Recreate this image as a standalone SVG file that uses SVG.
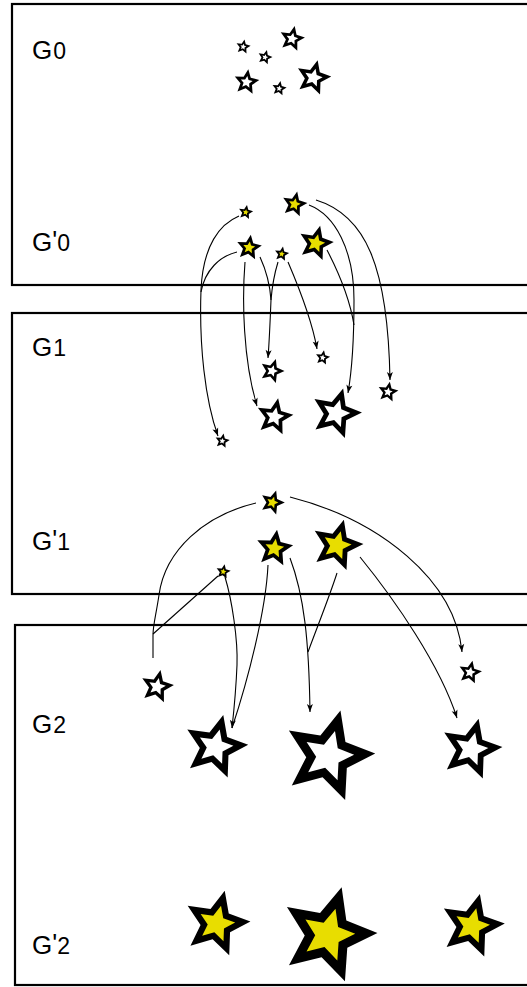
<svg xmlns="http://www.w3.org/2000/svg" width="527" height="987" viewBox="0 0 527 987">
  <style>
    .panel { fill: none; stroke: #000; stroke-width: 2.2; }
    .lbl { font-family: "Liberation Sans", Arial, sans-serif; font-size: 26px; fill: #000; }
    .idx { font-size: 23px; }
    .rim { fill: #000; }
    .w { fill: #fff; }
    .y { fill: #e8dd00; }
    .edge { fill: none; stroke: #000; stroke-width: 1.1; }
  </style>
  <defs>
    <!-- five-pointed star, outer radius 10 -->
    <path id="star" d="M0,-10 L2.763,-3.802 L9.511,-3.09 L4.47,1.452 L5.878,8.09 L0,4.7 L-5.878,8.09 L-4.47,1.452 L-9.511,-3.09 L-2.763,-3.802 Z"/>
    <marker id="ah" viewBox="-9 -4 10 8" refX="0" refY="0" markerWidth="10" markerHeight="8" markerUnits="userSpaceOnUse" orient="auto">
      <path d="M0,0 L-8,-3 L-6,0 L-8,3 Z" fill="#000"/>
    </marker>
  </defs>

  <rect width="527" height="987" fill="#fff"/>

  <!-- generation panels -->
  <g id="panels">
    <rect class="panel" x="12" y="4" width="530" height="281"/>
    <rect class="panel" x="12" y="313" width="530" height="281"/>
    <rect class="panel" x="15" y="625" width="530" height="360"/>
  </g>

  <!-- panel labels -->
  <g id="labels">
    <text class="lbl" x="32" y="59">G<tspan class="idx" dx="1">0</tspan></text>
    <text class="lbl" x="32" y="251">G<tspan dy="-2">'</tspan><tspan class="idx" dy="2">0</tspan></text>
    <text class="lbl" x="32" y="356">G<tspan class="idx" dx="1">1</tspan></text>
    <text class="lbl" x="32" y="550">G<tspan dy="-2">'</tspan><tspan class="idx" dy="2">1</tspan></text>
    <text class="lbl" x="32" y="733">G<tspan class="idx" dx="1">2</tspan></text>
    <text class="lbl" x="32" y="954">G<tspan dy="-2">'</tspan><tspan class="idx" dy="2">2</tspan></text>
  </g>

  <!-- connectors -->
  <g id="connectors">
    <!-- G'0 to G1 -->
    <path class="edge" d="M239,216 C220,224 203,245 201,290 C199,345 205,400 218,436" marker-end="url(#ah)"/>
    <path class="edge" d="M237,252 C220,256 205,270 201,292"/>
    <path class="edge" d="M245,262 C242,300 243,360 257,406" marker-end="url(#ah)"/>
    <path class="edge" d="M260,257 C266,270 270,285 271,300"/>
    <path class="edge" d="M278,262 C274,275 272,288 271,300 C270,325 269,345 268,358" marker-end="url(#ah)"/>
    <path class="edge" d="M288,262 C300,290 312,320 317,349" marker-end="url(#ah)"/>
    <path class="edge" d="M327,250 C340,275 350,300 354,325"/>
    <path class="edge" d="M309,205 C335,215 354,250 354,300 C354,340 352,370 348,393" marker-end="url(#ah)"/>
    <path class="edge" d="M316,200 C365,215 388,265 390,380" marker-end="url(#ah)"/>
    <!-- G'1 to G2 -->
    <path class="edge" d="M256,503 C205,515 165,550 159,595 C156,615 153,625 153,635 L153,658"/>
    <path class="edge" d="M218,576 L153,634"/>
    <path class="edge" d="M225,577 C232,600 238,640 237,665 C236,690 234,710 232,728" marker-end="url(#ah)"/>
    <path class="edge" d="M268,565 C266,610 248,680 232,728"/>
    <path class="edge" d="M290,558 C304,595 309,640 310,712" marker-end="url(#ah)"/>
    <path class="edge" d="M337,573 C330,595 318,625 308,652"/>
    <path class="edge" d="M360,557 C395,600 440,665 457,718" marker-end="url(#ah)"/>
    <path class="edge" d="M290,497 C380,520 455,580 462,652" marker-end="url(#ah)"/>
  </g>

  <!-- G0 -->
  <g id="g0-a" transform="translate(243.2,46.8) rotate(10) scale(.75)"><use href="#star" class="rim"/><use href="#star" class="w" transform="scale(.42)"/></g>
  <g id="g0-b" transform="translate(265,57.3) rotate(15) scale(.75)"><use href="#star" class="rim"/><use href="#star" class="w" transform="scale(.42)"/></g>
  <g id="g0-c" transform="translate(292,38.8) rotate(12) scale(1.3)"><use href="#star" class="rim"/><use href="#star" class="w" transform="scale(.48)"/></g>
  <g id="g0-d" transform="translate(246.5,82.2) rotate(8) scale(1.3)"><use href="#star" class="rim"/><use href="#star" class="w" transform="scale(.48)"/></g>
  <g id="g0-e" transform="translate(279.2,88.5) rotate(10) scale(.75)"><use href="#star" class="rim"/><use href="#star" class="w" transform="scale(.42)"/></g>
  <g id="g0-f" transform="translate(313.3,77.8) rotate(14) scale(1.8)"><use href="#star" class="rim"/><use href="#star" class="w" transform="scale(.52)"/></g>

  <!-- G'0 -->
  <g id="g0p-a" transform="translate(245.7,212.3) rotate(10) scale(.75)"><use href="#star" class="rim"/><use href="#star" class="y" transform="scale(.42)"/></g>
  <g id="g0p-c" transform="translate(294.5,204.3) rotate(12) scale(1.3)"><use href="#star" class="rim"/><use href="#star" class="y" transform="scale(.48)"/></g>
  <g id="g0p-d" transform="translate(249,247.7) rotate(8) scale(1.3)"><use href="#star" class="rim"/><use href="#star" class="y" transform="scale(.48)"/></g>
  <g id="g0p-e" transform="translate(281.7,254) rotate(10) scale(.75)"><use href="#star" class="rim"/><use href="#star" class="y" transform="scale(.42)"/></g>
  <g id="g0p-f" transform="translate(315.8,243.3) rotate(14) scale(1.8)"><use href="#star" class="rim"/><use href="#star" class="y" transform="scale(.52)"/></g>

  <!-- G1 -->
  <g id="g1-a" transform="translate(272,371) rotate(18) scale(1.25)"><use href="#star" class="rim"/><use href="#star" class="w" transform="scale(.48)"/></g>
  <g id="g1-b" transform="translate(322.7,357.7) rotate(10) scale(.75)"><use href="#star" class="rim"/><use href="#star" class="w" transform="scale(.42)"/></g>
  <g id="g1-c" transform="translate(274.5,417) rotate(11) scale(1.9)"><use href="#star" class="rim"/><use href="#star" class="w" transform="scale(.52)"/></g>
  <g id="g1-d" transform="translate(336,413.5) rotate(16) scale(2.6)"><use href="#star" class="rim"/><use href="#star" class="w" transform="scale(.55)"/></g>
  <g id="g1-e" transform="translate(388,392) rotate(10) scale(1.05)"><use href="#star" class="rim"/><use href="#star" class="w" transform="scale(.45)"/></g>
  <g id="g1-f" transform="translate(222.3,441) rotate(10) scale(.75)"><use href="#star" class="rim"/><use href="#star" class="w" transform="scale(.42)"/></g>

  <!-- G'1 -->
  <g id="g1p-a" transform="translate(272.3,502.5) rotate(18) scale(1.25)"><use href="#star" class="rim"/><use href="#star" class="y" transform="scale(.48)"/></g>
  <g id="g1p-c" transform="translate(274.4,548.5) rotate(8) scale(1.9)"><use href="#star" class="rim"/><use href="#star" class="y" transform="scale(.52)"/></g>
  <g id="g1p-d" transform="translate(337,545.3) rotate(15) scale(2.65)"><use href="#star" class="rim"/><use href="#star" class="y" transform="scale(.55)"/></g>
  <g id="g1p-f" transform="translate(223.3,571.7) rotate(10) scale(.75)"><use href="#star" class="rim"/><use href="#star" class="y" transform="scale(.42)"/></g>

  <!-- G2 -->
  <g id="g2-a" transform="translate(157,686.7) rotate(12) scale(1.7)"><use href="#star" class="rim"/><use href="#star" class="w" transform="scale(.52)"/></g>
  <g id="g2-b" transform="translate(470,672.4) rotate(12) scale(1.2)"><use href="#star" class="rim"/><use href="#star" class="w" transform="scale(.48)"/></g>
  <g id="g2-c" transform="translate(215.3,747) rotate(14) scale(3.3)"><use href="#star" class="rim"/><use href="#star" class="w" transform="scale(.55)"/></g>
  <g id="g2-d" transform="translate(328.3,756) rotate(15) scale(4.7)"><use href="#star" class="rim"/><use href="#star" class="w" transform="scale(.55)"/></g>
  <g id="g2-e" transform="translate(471,749.2) rotate(14) scale(3.15)"><use href="#star" class="rim"/><use href="#star" class="w" transform="scale(.55)"/></g>

  <!-- G'2 -->
  <g id="g2p-c" transform="translate(216.5,923.8) rotate(14) scale(3.4)"><use href="#star" class="rim"/><use href="#star" class="y" transform="scale(.55)"/></g>
  <g id="g2p-d" transform="translate(328,934.8) rotate(16) scale(4.95)"><use href="#star" class="rim"/><use href="#star" class="y" transform="scale(.55)"/></g>
  <g id="g2p-e" transform="translate(471.9,925.9) rotate(14) scale(3.3)"><use href="#star" class="rim"/><use href="#star" class="y" transform="scale(.55)"/></g>
</svg>
